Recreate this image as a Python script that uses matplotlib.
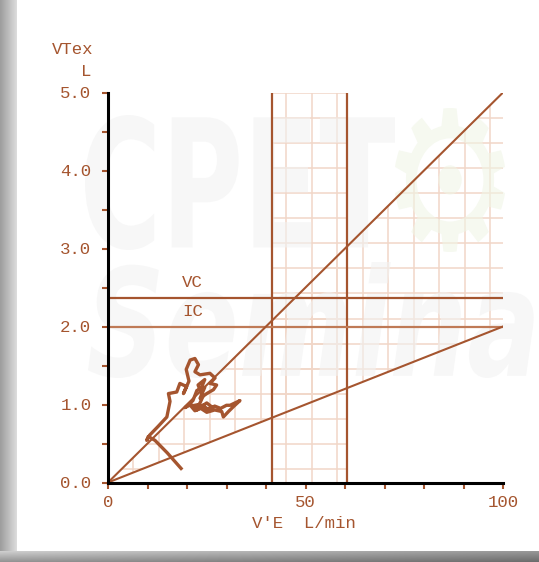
import numpy as np
import matplotlib
matplotlib.use("Agg")

import matplotlib.pyplot as plt
from matplotlib.patches import Polygon, PathPatch
from matplotlib.textpath import TextPath
from matplotlib.font_manager import FontProperties
from matplotlib.transforms import Affine2D, IdentityTransform

# ---- data ----
band_x = [41.6, 60.5]          # vertical threshold band (V'E)
vc_level = 2.37                # VC line (L)
ic_level = 2.0                 # IC line (L)
diag_hi = [0, 100], [0, 5.0]   # VT/VE = 1/20
diag_lo = [0, 100], [0, 2.0]   # VT/VE = 1/50

trace_x = [18.5, 15.0, 11.9, 10.2, 9.8, 10.6, 12.7, 14.9, 15.7, 15.3,
           17.4, 18.2, 19.9, 19.1, 20.5, 19.8, 20.8, 22.0, 22.9, 22.0,
           23.3, 25.8, 27.1, 25.8, 27.5, 26.7, 25.0, 23.3, 24.5, 22.5,
           21.5, 19.5, 21.0, 22.5, 24.0, 25.5, 27.0, 28.5, 30.0, 30.9,
           33.4, 31.7, 30.5, 29.2, 28.8, 27.0, 25.0, 23.5, 22.0, 21.0,
           23.0, 24.8, 26.5, 25.0, 23.5, 22.5, 24.0, 22.8, 24.5, 23.5]
trace_y = [0.18, 0.38, 0.54, 0.59, 0.54, 0.61, 0.72, 0.84, 1.04, 1.14,
           1.16, 1.27, 1.23, 1.14, 1.30, 1.45, 1.57, 1.59, 1.51, 1.42,
           1.38, 1.40, 1.34, 1.27, 1.25, 1.19, 1.14, 1.08, 1.22, 1.18,
           1.05, 0.96, 1.00, 0.94, 0.99, 0.93, 0.98, 0.95, 0.99, 0.99,
           1.05, 0.97, 0.91, 0.84, 0.91, 0.93, 0.90, 0.95, 0.92, 0.98,
           1.00, 0.94, 0.96, 1.02, 0.97, 0.93, 1.10, 1.25, 1.32, 1.20]

x_ticks = [0, 50, 100]
x_ticklabels = ["0", "50", "100"]
y_ticks = [0, 1, 2, 3, 4, 5]
y_ticklabels = ["0.0", "1.0", "2.0", "3.0", "4.0", "5.0"]

# paper grid spacing
grid_dx = 6.45
grid_dy = 0.322

BROWN = "#A5552F"
BROWN_LIGHT = "#BF7A56"
GRID = "#F1D6C8"
FONT = "Liberation Mono"

W, H = 539, 562
fig = plt.figure(figsize=(W / 100, H / 100), dpi=100)

# background frame: grey strip left, dark strip at bottom
img = np.ones((H, W, 3))
left = 17
img[:, :left, :] = np.linspace(0.62, 0.86, left)[None, :, None]
bot = 11
rows = np.linspace(0.62, 0.45, bot)[:, None]
cols = np.linspace(1.3, 0.95, W)[None, :]
img[H - bot:, :, :] = np.clip(rows * cols, 0, 1)[:, :, None]
bg = fig.add_axes([0, 0, 1, 1], zorder=-10)
bg.imshow(img, aspect="auto", interpolation="bilinear")
bg.axis("off")

ax = fig.add_axes([108 / W, (H - 482.5) / H, 395 / W, 390 / H])
ax.set_facecolor("none")

# paper grid: inside the wedge between the diagonals, and inside the band
xg = np.arange(grid_dx, 100, grid_dx)
yg = 5.0 - grid_dy * np.arange(0, 16)
wedge = Polygon([[0, 0], [100, 5.0], [100, 2.0]], closed=True,
                transform=ax.transData, fc="none", ec="none")
band = Polygon([[band_x[0], 0], [band_x[0], 5], [band_x[1], 5], [band_x[1], 0]],
               closed=True, transform=ax.transData, fc="none", ec="none")
for clip in (wedge, band):
    for xv in xg:
        ln, = ax.plot([xv, xv], [0, 5], color=GRID, lw=1.1, zorder=1)
        ln.set_clip_path(clip)
    for yv in yg:
        ln, = ax.plot([0, 100], [yv, yv], color=GRID, lw=1.1, zorder=1)
        ln.set_clip_path(clip)


def wordmark(text, box, prop, color, alpha):
    tp = TextPath((0, 0), text, size=1, prop=prop)
    ext = tp.get_extents()
    x0, y0, x1, y1 = box
    tr = (Affine2D().translate(-ext.x0, -ext.y0)
          .scale((x1 - x0) / ext.width, (y1 - y0) / ext.height)
          .translate(x0, H - y1))
    p = PathPatch(tr.transform_path(tp), fc=color, ec="none", alpha=alpha,
                  transform=IdentityTransform(), zorder=1.5, clip_on=False)
    ax.add_artist(p)


# faint watermark
wordmark("CPET", (85, 115, 395, 250),
         FontProperties(family="DejaVu Sans", weight="bold"), (0.95, 0.95, 0.95), 0.6)
wordmark("Seminar", (88, 262, 600, 378),
         FontProperties(family="DejaVu Sans", weight="bold", style="oblique"),
         (0.95, 0.95, 0.95), 0.6)
wordmark("\u2699", (395, 108, 505, 252),
         FontProperties(family="DejaVu Sans"), (0.94, 0.96, 0.90), 0.6)

# threshold lines
for xv in band_x:
    ax.plot([xv, xv], [0, 5], color=BROWN, lw=1.6, zorder=2)
ax.plot([0, 100], [vc_level, vc_level], color=BROWN, lw=1.6, zorder=2)
ax.plot([0, 100], [ic_level, ic_level], color=BROWN_LIGHT, lw=1.6, zorder=2)
ax.plot(*diag_hi, color=BROWN, lw=1.5, zorder=2)
ax.plot(*diag_lo, color=BROWN, lw=1.5, zorder=2)

# breath-by-breath trace
ax.plot(trace_x, trace_y, color=BROWN, lw=2.4, zorder=3)

ax.text(21.3, 2.56, "VC", color=BROWN, family=FONT, fontsize=12.5,
        ha="center", va="center")
ax.text(21.5, 2.19, "IC", color=BROWN, family=FONT, fontsize=12.5,
        ha="center", va="center")

ax.set_xlim(0, 100)
ax.set_ylim(0, 5)
for s in ["top", "right"]:
    ax.spines[s].set_visible(False)
for s in ["left", "bottom"]:
    ax.spines[s].set_color("black")
    ax.spines[s].set_linewidth(2.2)
    ax.spines[s].set_zorder(4)

ax.set_xticks(x_ticks)
ax.set_xticklabels(x_ticklabels)
ax.set_xticks(np.arange(0, 101, 10), minor=True)
ax.set_yticks(y_ticks)
ax.set_yticklabels(y_ticklabels)
ax.set_yticks(np.arange(0, 5.01, 0.5), minor=True)
ax.tick_params(which="both", direction="out", length=4, width=1.5,
               color=BROWN, labelcolor=BROWN, labelsize=12.5)
ax.tick_params(axis="y", pad=8)
ax.tick_params(axis="x", pad=5)
for lab in ax.get_xticklabels() + ax.get_yticklabels():
    lab.set_family(FONT)

fig.text(93 / W, 1 - 50 / H, "VTex", color=BROWN, family=FONT, fontsize=12.5,
         ha="right", va="center")
fig.text(91 / W, 1 - 72 / H, "L", color=BROWN, family=FONT, fontsize=12.5,
         ha="right", va="center")
fig.text(304 / W, 1 - 524 / H, "V'E  L/min", color=BROWN, family=FONT,
         fontsize=12.5, ha="center", va="center")

fig.savefig("out.png", dpi=100)
